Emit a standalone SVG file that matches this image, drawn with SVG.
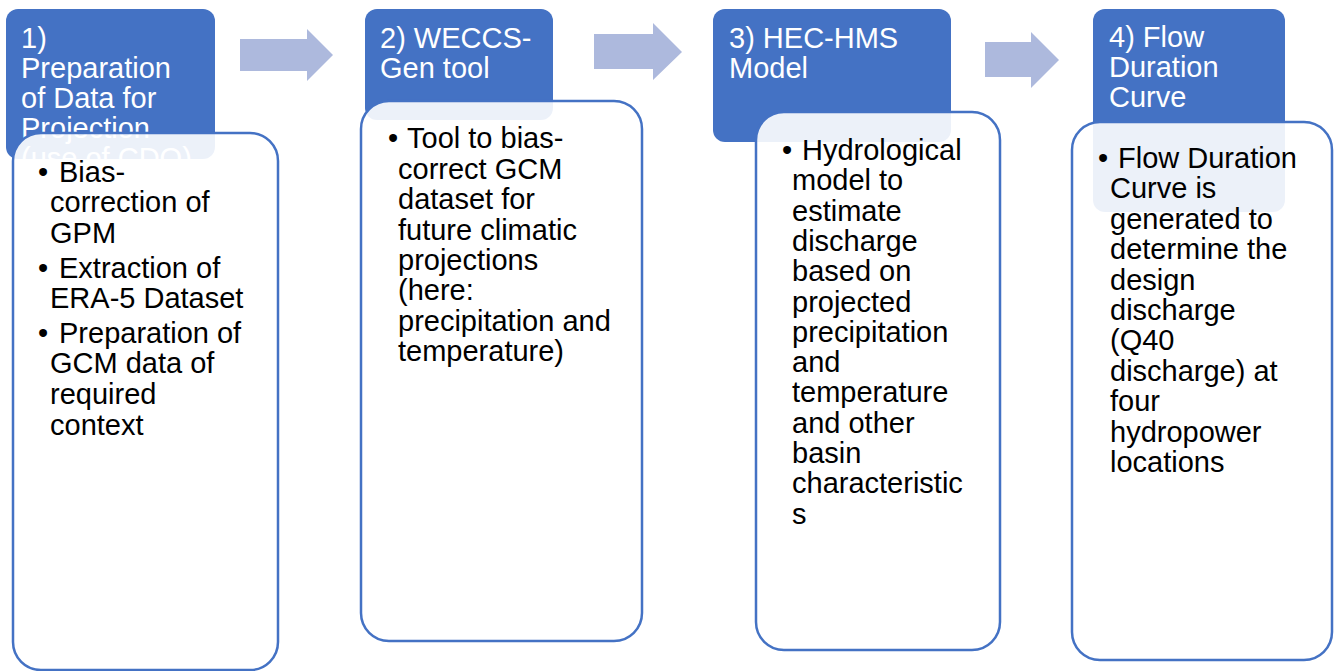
<svg xmlns="http://www.w3.org/2000/svg" width="1336" height="671" viewBox="0 0 1336 671">
<style>
.hdr{fill:#4472C4}
.box{fill:#FFFFFF;fill-opacity:0.9;stroke:#4472C4;stroke-width:2.5}
.ht{font-family:"Liberation Sans",Arial,sans-serif;font-size:29px;fill:#FFFFFF}
.bt{font-family:"Liberation Sans",Arial,sans-serif;font-size:29px;fill:#000000}
.arr{fill:#ADB9DD}
</style>
<rect width="1336" height="671" fill="#FFFFFF"/>
<g id="connectors">
<polygon class="arr" points="240,39 307,39 307,29 333,55 307,81 307,71 240,71"/>
<polygon class="arr" points="594,34 653,34 653,23 682,52 653,80 653,69 594,69"/>
<polygon class="arr" points="985,42 1031,42 1031,32 1059,60 1031,88 1031,77 985,77"/>
</g>
<g id="step1">
<rect class="hdr" x="6" y="9" width="209" height="150" rx="12"/>
<text class="ht"><tspan x="21" y="48">1)</tspan><tspan x="21" y="78">Preparation</tspan><tspan x="21" y="108">of Data for</tspan><tspan x="21" y="138">Projection</tspan><tspan x="21" y="168">(use of CDO)</tspan></text>
<rect class="box" x="13" y="133" width="265" height="537" rx="28"/>
<text class="bt"><tspan x="38" y="182">•</tspan><tspan x="59" y="182">Bias-</tspan><tspan x="50" y="212">correction of</tspan><tspan x="50" y="243">GPM</tspan><tspan x="38" y="278">•</tspan><tspan x="59" y="278">Extraction of</tspan><tspan x="50" y="308">ERA-5 Dataset</tspan><tspan x="38" y="343">•</tspan><tspan x="59" y="343">Preparation of</tspan><tspan x="50" y="373">GCM data of</tspan><tspan x="50" y="404">required</tspan><tspan x="50" y="435">context</tspan></text>
</g>
<g id="step2">
<rect class="hdr" x="365" y="9" width="188" height="111" rx="12"/>
<text class="ht"><tspan x="380" y="48">2) WECCS-</tspan><tspan x="380" y="78">Gen tool</tspan></text>
<rect class="box" x="361" y="101" width="281" height="540" rx="28"/>
<text class="bt"><tspan x="388" y="148">•</tspan><tspan x="407" y="148">Tool to bias-</tspan><tspan x="398" y="179">correct GCM</tspan><tspan x="398" y="209">dataset for</tspan><tspan x="398" y="240">future climatic</tspan><tspan x="398" y="270">projections</tspan><tspan x="398" y="300">(here:</tspan><tspan x="398" y="331">precipitation and</tspan><tspan x="398" y="361">temperature)</tspan></text>
</g>
<g id="step3">
<rect class="hdr" x="713" y="9" width="238" height="133" rx="12"/>
<text class="ht"><tspan x="729" y="48">3) HEC-HMS</tspan><tspan x="729" y="78">Model</tspan></text>
<rect class="box" x="756" y="112" width="244" height="538" rx="28"/>
<text class="bt"><tspan x="782" y="160">•</tspan><tspan x="802" y="160">Hydrological</tspan><tspan x="792" y="190.3">model to</tspan><tspan x="792" y="220.6">estimate</tspan><tspan x="792" y="250.9">discharge</tspan><tspan x="792" y="281.2">based on</tspan><tspan x="792" y="311.5">projected</tspan><tspan x="792" y="341.8">precipitation</tspan><tspan x="792" y="372.1">and</tspan><tspan x="792" y="402.4">temperature</tspan><tspan x="792" y="432.7">and other</tspan><tspan x="792" y="463">basin</tspan><tspan x="792" y="493.3">characteristic</tspan><tspan x="792" y="523.6">s</tspan></text>
</g>
<g id="step4">
<rect class="hdr" x="1093" y="9" width="192" height="203" rx="12"/>
<text class="ht"><tspan x="1109" y="47">4) Flow</tspan><tspan x="1109" y="77">Duration</tspan><tspan x="1109" y="107">Curve</tspan></text>
<rect class="box" x="1072" y="122" width="260" height="538" rx="28"/>
<text class="bt"><tspan x="1098" y="168">•</tspan><tspan x="1118" y="168">Flow Duration</tspan><tspan x="1110" y="198.4">Curve is</tspan><tspan x="1110" y="228.8">generated to</tspan><tspan x="1110" y="259.2">determine the</tspan><tspan x="1110" y="289.6">design</tspan><tspan x="1110" y="320">discharge</tspan><tspan x="1110" y="350.4">(Q40</tspan><tspan x="1110" y="380.8">discharge) at</tspan><tspan x="1110" y="411.2">four</tspan><tspan x="1110" y="441.6">hydropower</tspan><tspan x="1110" y="472">locations</tspan></text>
</g>
</svg>
